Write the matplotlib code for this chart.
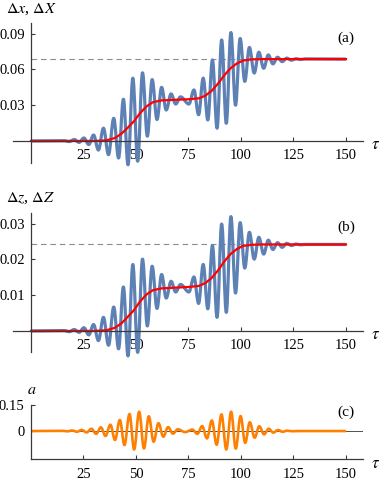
import matplotlib
matplotlib.use('Agg')
import matplotlib.pyplot as plt
from matplotlib.path import Path
from matplotlib.patches import PathPatch

plt.rcParams['font.family'] = ['Liberation Serif', 'DejaVu Serif']
plt.rcParams['mathtext.fontset'] = 'stix'

# ---------------- data ----------------
tau_ticks = [25, 50, 75, 100, 125, 150]
tick_labels = ['25', '50', '75', '100', '125', '150']

# smooth (red) curves
tau_red = [0, 30, 36, 40, 43, 46, 49, 52, 55, 58, 62, 68, 75, 80, 83, 86, 89, 92,
           95, 98, 101, 105, 110, 150]
red_x = [0, 0, 0.0005, 0.0025, 0.006, 0.011, 0.0165, 0.0235, 0.029, 0.0325, 0.034,
         0.0345, 0.035, 0.0358, 0.038, 0.042, 0.048, 0.055, 0.061, 0.065, 0.0675,
         0.0685, 0.0687, 0.0687]
red_z = [0, 0, 0.0002, 0.0009, 0.0021, 0.0039, 0.0058, 0.0083, 0.0102, 0.0114, 0.0119,
         0.0121, 0.0123, 0.0126, 0.0134, 0.0148, 0.0169, 0.0194, 0.0215, 0.0229,
         0.0238, 0.0241, 0.0242, 0.0242]

# oscillating (blue) curves: turning points
tau_osc = [0, 15.8, 18.2, 20.6, 22.9, 25.2, 27.5, 29.8, 32.1, 34.5, 36.9, 39.4, 41.7,
           44.0, 46.2, 48.5, 50.8, 53.1, 55.4, 57.7, 60.0, 62.2, 64.4, 66.7, 68.9,
           71.2, 75.2, 77.6, 79.8, 82.0, 84.2, 86.4, 88.6, 90.8, 93.0, 95.2, 97.4,
           99.6, 101.8, 104.0, 106.3, 108.5, 110.8, 113.0, 115.2, 117.4, 119.6,
           121.8, 124.0, 126.2, 128.4, 130.6, 150]
osc_x = [0, 0.0002, -0.0005, 0.0012, -0.0012, 0.0025, -0.003, 0.005, -0.0076, 0.0107,
         -0.0115, 0.019, -0.0143, 0.035, -0.020, 0.0527, -0.017, 0.0572, 0.004, 0.0515,
         0.018, 0.045, 0.026, 0.0395, 0.031, 0.037, 0.031, 0.0428, 0.022, 0.0527,
         0.0176, 0.068, 0.0107, 0.0848, 0.0148, 0.091, 0.030, 0.086, 0.050, 0.0785,
         0.057, 0.0745, 0.061, 0.0722, 0.0647, 0.0703, 0.0666, 0.0695, 0.0678, 0.069,
         0.0684, 0.0689, 0.0687]
osc_z = [0, 0.0001, -0.0002, 0.0004, -0.0004, 0.0009, -0.0011, 0.0018, -0.0027, 0.0038,
         -0.0040, 0.0067, -0.0050, 0.0123, -0.0070, 0.0186, -0.0060, 0.0201, 0.0014,
         0.0181, 0.0063, 0.0158, 0.0092, 0.0139, 0.0109, 0.0130, 0.0109, 0.0151,
         0.0077, 0.0186, 0.0062, 0.0239, 0.0038, 0.0299, 0.0052, 0.0320, 0.0106,
         0.0303, 0.0176, 0.0276, 0.0201, 0.0262, 0.0215, 0.0254, 0.0228, 0.0247,
         0.0234, 0.0245, 0.0239, 0.0243, 0.0241, 0.0242, 0.0242]
limit_x = 0.0687
limit_z = 0.0242

# field a (orange): turning points
tau_a = [0, 15.0, 17.4, 19.6, 21.9, 24.2, 26.5, 28.8, 31.0, 33.3, 35.5, 37.8, 40.0,
         42.3, 44.5, 46.9, 49.1, 51.5, 53.8, 56.1, 58.4, 60.7, 63.0, 65.3, 67.6, 69.9,
         73.4, 76.9, 79.2, 81.5, 83.8, 86.1, 88.4, 90.7, 93.0, 95.3, 97.5, 99.8,
         102.0, 104.2, 106.5, 108.7, 111.0, 113.2, 115.4, 117.6, 119.8, 122.0, 124.2,
         128, 150]
a_vals = [0, 0.001, -0.0015, 0.003, -0.004, 0.006, -0.008, 0.013, -0.016, 0.021,
          -0.028, 0.036, -0.051, 0.063, -0.080, 0.097, -0.105, 0.110, -0.099, 0.084,
          -0.061, 0.045, -0.032, 0.022, -0.015, 0.010, -0.006, 0.008, -0.016, 0.028,
          -0.042, 0.060, -0.078, 0.095, -0.105, 0.110, -0.100, 0.085, -0.067, 0.050,
          -0.038, 0.027, -0.019, 0.013, -0.009, 0.006, -0.004, 0.002, -0.001, 0, 0]

# ---------------- figure ----------------
W, H = 382, 483
fig = plt.figure(figsize=(W / 100, H / 100), dpi=100)

BLUE = '#5E81B5'
RED = '#FF0000'
ORANGE = '#FF8000'
AXC = '#3a3a3a'
FS = 10.5


def px_axes(x0, y0, x1, y1):
    return fig.add_axes([x0 / W, 1 - y1 / H, (x1 - x0) / W, (y1 - y0) / H])


def ftext(x, y, s, **kw):
    fig.text(x / W, 1 - y / H, s, **kw)


def turning_curve(ax, ts, vs, **kw):
    """Draw a line through turning points with flat tangents at each one."""
    k = 0.3634
    verts = [(ts[0], vs[0])]
    codes = [Path.MOVETO]
    for i in range(len(ts) - 1):
        d = ts[i + 1] - ts[i]
        verts += [(ts[i] + k * d, vs[i]), (ts[i + 1] - k * d, vs[i + 1]),
                  (ts[i + 1], vs[i + 1])]
        codes += [Path.CURVE4] * 3
    ax.add_patch(PathPatch(Path(verts, codes), facecolor='none', clip_on=False,
                           capstyle='butt', joinstyle='round', **kw))


XL = ((13 - 31) / 2.1, (363 - 31) / 2.1)


def frac(t):
    return (t - XL[0]) / (XL[1] - XL[0])


def common(ax, ylim, yticks, ylabels, zero_bottom=True):
    ax.set_xlim(*XL)
    ax.set_ylim(*ylim)
    ax.patch.set_visible(False)
    for s in ['top', 'right']:
        ax.spines[s].set_visible(False)
    ax.spines['left'].set_position(('data', 0))
    if zero_bottom:
        ax.spines['bottom'].set_position(('data', 0))
    else:
        ax.spines['bottom'].set_bounds(0, XL[1])
    for s in ['left', 'bottom']:
        ax.spines[s].set_color(AXC)
        ax.spines[s].set_linewidth(0.9)
        ax.spines[s].set_zorder(5)
    ax.set_xticks(tau_ticks)
    ax.set_xticklabels(tick_labels)
    ax.set_yticks(yticks)
    ax.set_yticklabels(ylabels)
    ax.tick_params(direction='in', length=3, width=0.8, color=AXC, labelsize=FS)
    ax.tick_params(axis='x', pad=6)
    ax.tick_params(axis='y', pad=4.5)


# top panel
ax1 = px_axes(13, 23, 363, 163)
common(ax1, (-0.0185, 0.099), [0.03, 0.06, 0.09], ['0.03', '0.06', '0.09'])
ax1.axhline(limit_x, xmin=frac(0), xmax=frac(150), color='#8c8c8c', lw=0.8,
            ls=(0, (5, 3.5)))
turning_curve(ax1, tau_osc, osc_x, edgecolor=BLUE, lw=2.3, zorder=2)
ax1.plot(tau_red, red_x, color=RED, lw=1.6, clip_on=False, zorder=3)

# middle panel
ax2 = px_axes(13, 213, 363, 352.4)
common(ax2, (-0.006, 0.033), [0.01, 0.02, 0.03], ['0.01', '0.02', '0.03'])
ax2.axhline(limit_z, xmin=frac(0), xmax=frac(150), color='#8c8c8c', lw=0.8,
            ls=(0, (5, 3.5)))
turning_curve(ax2, tau_osc, osc_z, edgecolor=BLUE, lw=2.3, zorder=2)
ax2.plot(tau_red, red_z, color=RED, lw=1.6, clip_on=False, zorder=3)

# bottom panel
ax3 = px_axes(13, 404.7, 363, 459.3)
common(ax3, (-0.161, 0.15), [0, 0.15], ['0', '0.15'], zero_bottom=False)
ax3.axhline(0, xmin=frac(0), color='#333333', lw=0.6, zorder=1)
turning_curve(ax3, tau_a, a_vals, edgecolor=ORANGE, lw=1.9, zorder=2)

# labels
ftext(6, 9, r'$\Delta x$, $\Delta X$', fontsize=11.5, ha='left', va='center')
ftext(6, 198, r'$\Delta z$, $\Delta Z$', fontsize=11.5, ha='left', va='center')
ftext(27, 390, r'$a$', fontsize=11.5, ha='left', va='center')
for y in (145, 335, 464):
    ftext(371, y, r'$\tau$', fontsize=12, ha='left', va='center')
ftext(346, 38, '(a)', fontsize=11, ha='center', va='center')
ftext(346, 227, '(b)', fontsize=11, ha='center', va='center')
ftext(346, 412, '(c)', fontsize=11, ha='center', va='center')

fig.savefig('out.png', dpi=100)
